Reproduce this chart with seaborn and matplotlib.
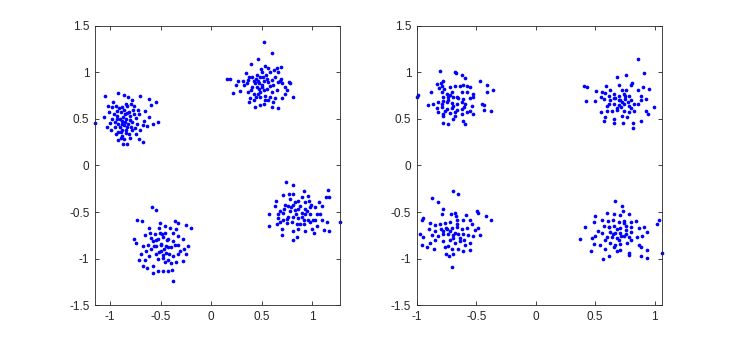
import pandas as pd
import matplotlib
matplotlib.use("Agg")
import matplotlib.pyplot as plt
import seaborn as sns

# values, one list of (x, y) per cluster
left_upper_left = [
    (-1.05, 0.75), (-0.92, 0.78), (-0.86, 0.76), (-0.82, 0.74), (-0.70, 0.75), (-0.62, 0.71),
    (-0.55, 0.68), (-0.60, 0.65), (-1.15, 0.46), (-0.53, 0.47), (-0.58, 0.45), (-0.62, 0.52),
    (-0.67, 0.48), (-0.68, 0.43), (-0.70, 0.38), (-0.71, 0.55), (-0.74, 0.34), (-0.78, 0.38),
    (-0.81, 0.34), (-0.84, 0.38), (-0.88, 0.32), (-0.89, 0.30), (-0.87, 0.23), (-0.83, 0.23),
    (-0.71, 0.28), (-0.68, 0.25), (-0.94, 0.34), (-0.99, 0.38), (-1.03, 0.41), (-1.06, 0.52),
    (-1.01, 0.57), (-0.98, 0.63), (-1.02, 0.64), (-0.94, 0.64), (-0.88, 0.63), (-0.83, 0.64),
    (-0.79, 0.66), (-0.76, 0.64), (-0.77, 0.60), (-0.81, 0.57), (-0.85, 0.55), (-0.89, 0.57),
    (-0.93, 0.59), (-0.96, 0.55), (-0.98, 0.50), (-0.93, 0.50), (-0.88, 0.48), (-0.84, 0.50),
    (-0.80, 0.49), (-0.78, 0.47), (-0.73, 0.45), (-0.74, 0.51), (-0.92, 0.45), (-0.95, 0.41),
    (-0.90, 0.41), (-0.86, 0.43), (-0.83, 0.41), (-0.79, 0.41), (-0.88, 0.38), (-0.92, 0.36),
    (-0.87, 0.52), (-0.85, 0.47), (-0.90, 0.50), (-0.82, 0.45), (-0.88, 0.44), (-0.93, 0.53),
    (-0.80, 0.53), (-0.86, 0.60), (-0.91, 0.62), (-0.84, 0.66), (-0.95, 0.47), (-0.89, 0.36),
    (-0.84, 0.35), (-0.76, 0.55), (-0.72, 0.60), (-0.66, 0.58), (-0.64, 0.42), (-1.00, 0.46),
    (-0.97, 0.68), (-0.78, 0.70), (-0.86, 0.28), (-0.80, 0.30), (-0.92, 0.27), (-0.75, 0.40),
    (-0.83, 0.56),
]
left_upper_right = [
    (0.52, 1.33), (0.605, 1.21), (0.466, 1.14), (0.39, 1.09), (0.53, 1.07), (0.65, 1.05),
    (0.69, 1.06), (0.157, 0.93), (0.19, 0.93), (0.27, 0.91), (0.31, 0.91), (0.34, 0.99),
    (0.376, 0.95), (0.29, 0.80), (0.22, 0.78), (0.78, 0.88), (0.75, 0.81), (0.81, 0.74),
    (0.73, 0.77), (0.68, 0.91), (0.63, 0.95), (0.58, 1.00), (0.54, 0.97), (0.50, 1.00),
    (0.45, 0.97), (0.42, 0.91), (0.466, 0.91), (0.52, 0.91), (0.565, 0.90), (0.615, 0.86),
    (0.665, 0.90), (0.40, 0.84), (0.45, 0.84), (0.50, 0.86), (0.55, 0.82), (0.60, 0.79),
    (0.65, 0.81), (0.366, 0.79), (0.42, 0.77), (0.48, 0.79), (0.53, 0.75), (0.58, 0.74),
    (0.63, 0.72), (0.383, 0.72), (0.42, 0.70), (0.376, 0.68), (0.43, 0.63), (0.48, 0.65),
    (0.52, 0.66), (0.60, 0.63), (0.665, 0.62), (0.565, 0.70), (0.35, 0.88), (0.32, 0.86),
    (0.48, 0.95), (0.515, 0.95), (0.43, 0.88), (0.475, 0.82), (0.52, 0.81), (0.48, 0.74),
    (0.665, 1.00), (0.69, 0.93), (0.615, 0.68), (0.70, 0.72), (0.73, 0.84), (0.47, 0.88),
    (0.50, 0.84), (0.44, 0.93), (0.55, 0.93), (0.58, 0.85), (0.46, 0.77), (0.40, 0.95),
    (0.62, 1.02), (0.36, 0.92), (0.56, 1.05), (0.70, 0.88), (0.53, 0.70), (0.44, 0.73),
    (0.60, 0.92), (0.25, 0.86), (0.77, 0.90), (0.49, 1.04), (0.39, 0.81),
]
left_lower_left = [
    (-0.588, -0.45), (-0.545, -0.48), (-0.737, -0.58), (-0.685, -0.60), (-0.356, -0.60),
    (-0.33, -0.62), (-0.247, -0.64), (-0.197, -0.67), (-0.618, -0.67), (-0.52, -0.67),
    (-0.41, -0.67), (-0.61, -0.72), (-0.56, -0.74), (-0.51, -0.72), (-0.46, -0.72),
    (-0.38, -0.72), (-0.33, -0.76), (-0.28, -0.79), (-0.23, -0.86), (-0.27, -0.90),
    (-0.76, -0.79), (-0.744, -0.83), (-0.678, -0.86), (-0.628, -0.85), (-0.578, -0.81),
    (-0.53, -0.79), (-0.48, -0.77), (-0.43, -0.79), (-0.38, -0.81), (-0.33, -0.85),
    (-0.545, -0.86), (-0.495, -0.85), (-0.445, -0.86), (-0.396, -0.88), (-0.595, -0.90),
    (-0.645, -0.92), (-0.695, -0.95), (-0.71, -1.01), (-0.66, -1.01), (-0.678, -1.08),
    (-0.638, -1.10), (-0.578, -1.08), (-0.545, -0.95), (-0.495, -0.92), (-0.445, -0.94),
    (-0.48, -0.99), (-0.43, -1.01), (-0.38, -0.97), (-0.33, -0.95), (-0.28, -1.03),
    (-0.346, -1.04), (-0.46, -1.04), (-0.479, -1.13), (-0.43, -1.13), (-0.386, -1.12),
    (-0.38, -1.24), (-0.53, -1.13), (-0.50, -0.84), (-0.47, -0.90), (-0.52, -0.93),
    (-0.55, -0.80), (-0.44, -0.80), (-0.42, -0.95), (-0.57, -0.86), (-0.49, -0.73),
    (-0.60, -0.78), (-0.36, -0.85), (-0.53, -1.00), (-0.40, -1.05), (-0.62, -0.97),
    (-0.46, -0.65), (-0.35, -0.68), (-0.66, -0.75), (-0.25, -0.95), (-0.58, -1.15),
    (-0.31, -0.92), (-0.51, -0.62), (-0.43, -0.88), (-0.48, -0.96),
]
left_lower_right = [
    (0.738, -0.18), (0.808, -0.21), (0.914, -0.27), (1.156, -0.26), (1.166, -0.34),
    (1.133, -0.34), (0.715, -0.32), (0.774, -0.31), (0.814, -0.31), (0.897, -0.34),
    (0.963, -0.33), (0.638, -0.38), (0.781, -0.36), (0.864, -0.38), (0.93, -0.39),
    (0.973, -0.38), (1.063, -0.39), (1.096, -0.43), (1.03, -0.45), (0.632, -0.43),
    (0.731, -0.42), (0.764, -0.43), (0.814, -0.42), (0.88, -0.43), (0.93, -0.47),
    (0.98, -0.45), (0.575, -0.52), (0.68, -0.49), (0.715, -0.51), (0.781, -0.49),
    (0.831, -0.48), (0.897, -0.51), (0.93, -0.52), (0.98, -0.52), (1.046, -0.52),
    (1.08, -0.52), (0.665, -0.56), (0.715, -0.58), (0.764, -0.55), (0.814, -0.55),
    (0.864, -0.56), (0.914, -0.58), (0.963, -0.58), (1.03, -0.59), (1.096, -0.59),
    (0.572, -0.65), (0.68, -0.61), (0.648, -0.63), (0.748, -0.62), (0.798, -0.61),
    (0.847, -0.63), (0.914, -0.63), (0.98, -0.61), (1.046, -0.65), (1.146, -0.61),
    (1.272, -0.61), (0.698, -0.68), (0.814, -0.70), (0.864, -0.68), (0.93, -0.70),
    (0.997, -0.68), (1.113, -0.69), (1.163, -0.70), (0.698, -0.75), (0.847, -0.77),
    (0.808, -0.80), (1.013, -0.72), (0.86, -0.47), (0.84, -0.52), (0.90, -0.55),
    (0.79, -0.45), (0.95, -0.49), (0.75, -0.57), (0.88, -0.63), (0.72, -0.47),
    (0.99, -0.42), (0.66, -0.52), (1.01, -0.58), (0.83, -0.39),
]

right_upper_left = [
    (-0.806, 1.01), (-0.679, 1.00), (-0.671, 0.99), (-0.623, 0.97), (-0.595, 0.94),
    (-0.468, 0.91), (-0.406, 0.86), (-0.356, 0.81), (-0.834, 0.87), (-0.80, 0.88),
    (-0.78, 0.91), (-0.81, 0.83), (-0.786, 0.85), (-0.77, 0.82), (-0.721, 0.84),
    (-0.679, 0.85), (-0.637, 0.85), (-0.609, 0.86), (-0.581, 0.85), (-0.553, 0.84),
    (-0.882, 0.79), (-0.989, 0.76), (-1.0, 0.74), (-0.792, 0.79), (-0.75, 0.77),
    (-0.707, 0.79), (-0.623, 0.79), (-0.581, 0.79), (-0.524, 0.77), (-0.406, 0.79),
    (-0.778, 0.73), (-0.735, 0.74), (-0.693, 0.73), (-0.651, 0.72), (-0.609, 0.71),
    (-0.553, 0.72), (-0.524, 0.73), (-0.904, 0.65), (-0.862, 0.66), (-0.82, 0.68),
    (-0.792, 0.66), (-0.75, 0.68), (-0.707, 0.67), (-0.665, 0.66), (-0.623, 0.68),
    (-0.595, 0.66), (-0.539, 0.64), (-0.454, 0.66), (-0.434, 0.65), (-0.834, 0.62),
    (-0.792, 0.63), (-0.75, 0.61), (-0.707, 0.62), (-0.665, 0.60), (-0.623, 0.61),
    (-0.553, 0.59), (-0.434, 0.60), (-0.378, 0.59), (-0.82, 0.57), (-0.778, 0.55),
    (-0.721, 0.56), (-0.679, 0.57), (-0.623, 0.55), (-0.581, 0.57), (-0.524, 0.55),
    (-0.783, 0.53), (-0.741, 0.45), (-0.783, 0.46), (-0.609, 0.48), (-0.595, 0.44),
    (-0.693, 0.50), (-0.74, 0.70), (-0.70, 0.64), (-0.78, 0.69), (-0.66, 0.74),
    (-0.72, 0.76), (-0.60, 0.63), (-0.76, 0.59), (-0.68, 0.53),
]
right_upper_right = [
    (0.862, 1.14), (0.91, 0.99), (0.756, 0.97), (0.68, 0.95), (0.404, 0.85), (0.432, 0.84),
    (0.812, 0.88), (0.798, 0.86), (0.592, 0.85), (0.70, 0.86), (0.511, 0.80), (0.559, 0.79),
    (0.587, 0.78), (0.629, 0.81), (0.727, 0.81), (0.756, 0.81), (0.86, 0.81), (0.905, 0.84),
    (0.952, 0.82), (0.615, 0.75), (0.657, 0.77), (0.70, 0.75), (0.742, 0.77), (0.784, 0.75),
    (0.882, 0.75), (0.502, 0.69), (0.424, 0.69), (0.573, 0.71), (0.623, 0.70), (0.666, 0.72),
    (0.708, 0.70), (0.75, 0.71), (0.798, 0.70), (0.882, 0.70), (0.924, 0.71), (0.657, 0.66),
    (0.70, 0.65), (0.742, 0.66), (0.784, 0.64), (0.826, 0.66), (0.601, 0.64), (0.55, 0.57),
    (0.601, 0.59), (0.685, 0.60), (0.742, 0.59), (0.784, 0.57), (0.826, 0.58), (0.924, 0.59),
    (0.995, 0.63), (0.944, 0.55), (0.587, 0.52), (0.657, 0.50), (0.727, 0.53), (0.77, 0.52),
    (0.578, 0.48), (0.736, 0.46), (0.82, 0.46), (0.82, 0.40), (0.663, 0.46), (0.882, 0.48),
    (0.70, 0.70), (0.66, 0.72), (0.73, 0.68), (0.68, 0.62), (0.75, 0.75), (0.62, 0.66),
    (0.80, 0.62), (0.72, 0.63), (0.64, 0.58), (0.78, 0.68), (0.86, 0.66), (0.55, 0.74),
]
right_lower_left = [
    (-0.693, -0.27), (-0.657, -0.31), (-0.876, -0.35), (-0.82, -0.39), (-0.783, -0.47),
    (-0.792, -0.52), (-0.716, -0.52), (-0.679, -0.51), (-0.671, -0.54), (-0.586, -0.53),
    (-0.496, -0.49), (-0.482, -0.51), (-0.418, -0.54), (-0.375, -0.58), (-0.96, -0.59),
    (-0.946, -0.56), (-0.89, -0.62), (-0.848, -0.64), (-0.806, -0.63), (-0.764, -0.62),
    (-0.721, -0.61), (-0.665, -0.59), (-0.609, -0.59), (-0.553, -0.59), (-0.539, -0.63),
    (-0.482, -0.67), (-0.51, -0.69), (-0.896, -0.685), (-0.848, -0.70), (-0.80, -0.685),
    (-0.755, -0.67), (-0.707, -0.67), (-0.665, -0.66), (-0.623, -0.685), (-0.581, -0.67),
    (-0.975, -0.74), (-0.946, -0.77), (-0.876, -0.75), (-0.82, -0.76), (-0.778, -0.74),
    (-0.735, -0.73), (-0.693, -0.75), (-0.651, -0.74), (-0.609, -0.73), (-0.567, -0.75),
    (-0.524, -0.76), (-0.468, -0.75), (-0.96, -0.85), (-0.918, -0.88), (-0.89, -0.83),
    (-0.848, -0.80), (-0.778, -0.81), (-0.721, -0.80), (-0.679, -0.83), (-0.637, -0.81),
    (-0.595, -0.85), (-0.553, -0.83), (-0.856, -0.90), (-0.764, -0.88), (-0.707, -0.90),
    (-0.651, -0.90), (-0.609, -0.92), (-0.553, -0.91), (-0.755, -0.95), (-0.727, -0.97),
    (-0.693, -0.95), (-0.702, -1.09), (-0.72, -0.70), (-0.68, -0.72), (-0.75, -0.68),
    (-0.70, -0.78), (-0.64, -0.78), (-0.78, -0.70), (-0.66, -0.63), (-0.60, -0.80),
    (-0.74, -0.86),
]
right_lower_right = [
    (0.666, -0.38), (0.722, -0.43), (0.736, -0.49), (0.601, -0.51), (0.663, -0.52),
    (0.708, -0.53), (0.502, -0.54), (0.494, -0.61), (0.784, -0.52), (0.559, -0.58),
    (0.606, -0.60), (0.651, -0.59), (0.70, -0.61), (0.742, -0.60), (0.803, -0.61),
    (0.84, -0.60), (0.418, -0.66), (1.023, -0.63), (1.037, -0.58), (0.573, -0.65),
    (0.615, -0.66), (0.657, -0.65), (0.713, -0.67), (0.756, -0.65), (0.798, -0.66),
    (0.868, -0.67), (0.91, -0.66), (0.522, -0.70), (0.559, -0.72), (0.629, -0.71),
    (0.671, -0.72), (0.713, -0.72), (0.756, -0.73), (0.798, -0.71), (0.938, -0.71),
    (0.502, -0.76), (0.474, -0.78), (0.376, -0.79), (0.601, -0.77), (0.643, -0.77),
    (0.685, -0.78), (0.742, -0.76), (0.784, -0.77), (0.854, -0.77), (0.896, -0.76),
    (0.488, -0.84), (0.545, -0.85), (0.629, -0.83), (0.671, -0.85), (0.713, -0.84),
    (0.77, -0.83), (0.868, -0.85), (0.466, -0.92), (0.587, -0.90), (0.685, -0.92),
    (0.713, -0.91), (0.784, -0.94), (0.882, -0.88), (0.933, -0.91), (1.059, -0.94),
    (0.564, -1.00), (0.615, -0.97), (0.784, -0.96), (0.882, -0.97), (0.933, -0.99),
    (0.68, -0.68), (0.72, -0.76), (0.65, -0.74), (0.76, -0.69), (0.70, -0.80),
    (0.62, -0.66), (0.80, -0.80), (0.58, -0.80), (0.74, -0.62), (0.66, -0.88),
]

x_ticks = [-1, -0.5, 0, 0.5, 1]
y_ticks = [-1.5, -1, -0.5, 0, 0.5, 1, 1.5]
tick_labels_x = ["-1", "-0.5", "0", "0.5", "1"]
tick_labels_y = ["-1.5", "-1", "-0.5", "0", "0.5", "1", "1.5"]

left_df = pd.DataFrame(left_upper_left + left_upper_right + left_lower_left + left_lower_right,
                       columns=["x", "y"])
right_df = pd.DataFrame(right_upper_left + right_upper_right + right_lower_left + right_lower_right,
                        columns=["x", "y"])

plt.rcParams["font.family"] = ["Liberation Sans", "DejaVu Sans"]
edge = "#262626"

fig = plt.figure(figsize=(7.31, 3.43), dpi=100)
axes = [fig.add_axes([0.13, 0.11, 0.3347, 0.815]),
        fig.add_axes([0.5703, 0.11, 0.3347, 0.815])]

for ax, df in zip(axes, [left_df, right_df]):
    sns.scatterplot(data=df, x="x", y="y", ax=ax, color="#0000ff", s=7,
                    linewidth=0, legend=False, clip_on=False)
    ax.set_xlim(df["x"].min(), df["x"].max())
    ax.set_ylim(-1.5, 1.5)
    ax.set_xticks(x_ticks)
    ax.set_xticklabels(tick_labels_x)
    ax.set_yticks(y_ticks)
    ax.set_yticklabels(tick_labels_y)
    ax.set_xlabel("")
    ax.set_ylabel("")
    ax.tick_params(direction="in", length=3, width=0.6, top=True, right=True,
                   labelsize=8.5, colors=edge, pad=4)
    for sp in ax.spines.values():
        sp.set_color(edge)
        sp.set_linewidth(0.6)

fig.savefig("out.png", dpi=100)
